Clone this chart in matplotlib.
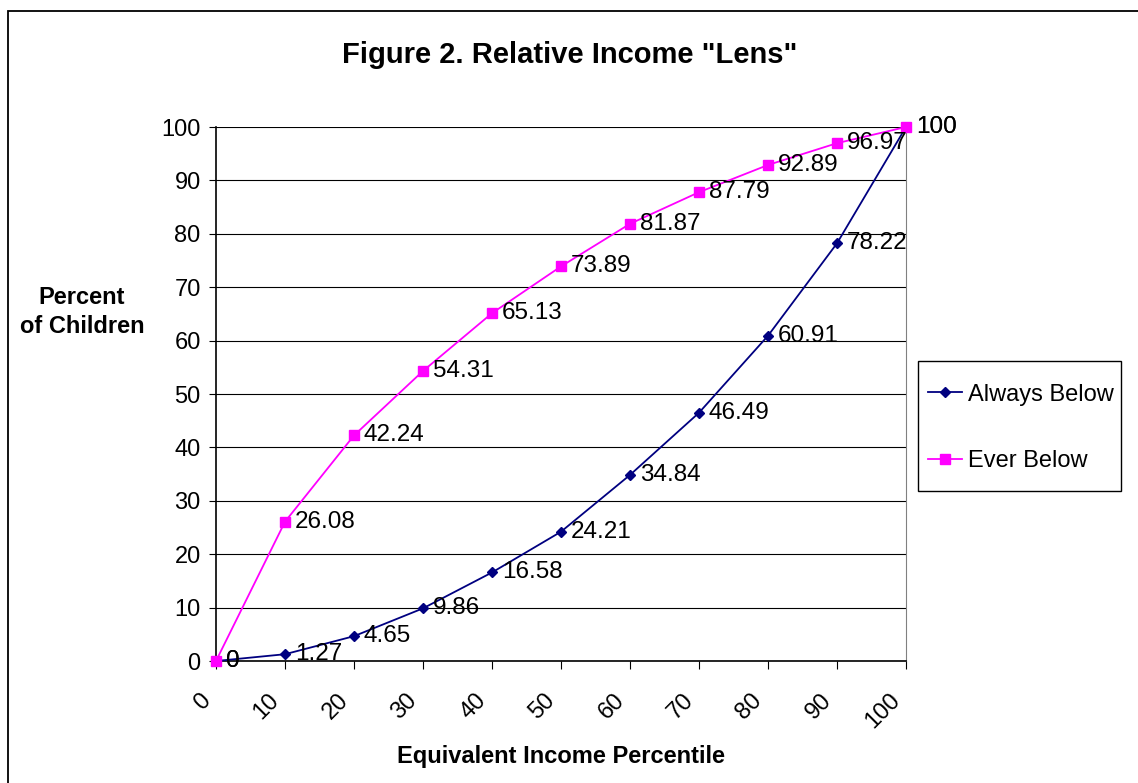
import matplotlib.pyplot as plt
from matplotlib.patches import Rectangle
from matplotlib.transforms import ScaledTranslation

# Percentil de renda e percentuais
percentis = [0, 10, 20, 30, 40, 50, 60, 70, 80, 90, 100]
always_below = [0, 1.27, 4.65, 9.86, 16.58, 24.21, 34.84, 46.49, 60.91, 78.22, 100]
ever_below = [0, 26.08, 42.24, 54.31, 65.13, 73.89, 81.87, 87.79, 92.89, 96.97, 100]
rotulos_x = [str(p) for p in percentis]

plt.rcParams['font.family'] = ['Liberation Sans', 'DejaVu Sans']

fig = plt.figure(figsize=(11.38, 7.83), dpi=100)
ax = fig.add_axes([216 / 1138, 1 - 661 / 783, 690 / 1138, 534 / 783])

# Borda externa do gráfico (só esquerda e topo aparecem)
fig.patches.append(Rectangle((8 / 1138, -0.1), 1.2, 1.1 - 11 / 783,
                             transform=fig.transFigure, fill=False,
                             edgecolor='black', linewidth=1.3))

l1, = ax.plot(percentis, always_below, color='#000080', marker='D',
              markersize=5, linewidth=1.3, label='Always Below', zorder=3,
              clip_on=False)
l2, = ax.plot(percentis, ever_below, color='#FF00FF', marker='s',
              markersize=7, linewidth=1.3, label='Ever Below', zorder=3,
              clip_on=False)

# Rótulos dos dados
for x, y in zip(percentis, always_below):
    ax.annotate(f"{y:g}", (x, y), xytext=(7, 0), textcoords='offset points',
                va='center', ha='left', fontsize=17.5, zorder=4)
for x, y in zip(percentis, ever_below):
    ax.annotate(f"{y:g}", (x, y), xytext=(7, 0), textcoords='offset points',
                va='center', ha='left', fontsize=17.5, zorder=4)

ax.set_xlim(0, 100)
ax.set_ylim(0, 100)
ax.set_xticks(percentis)
ax.set_xticklabels(rotulos_x, rotation=45, ha='right', va='top',
                   rotation_mode='anchor', fontsize=17)
ax.set_yticks(range(0, 101, 10))
ax.tick_params(axis='y', labelsize=17, direction='out', length=5, pad=6)
ax.tick_params(axis='x', direction='out', length=6, pad=10)
ax.yaxis.grid(True, color='black', linewidth=0.8)
ax.set_axisbelow(True)

# desloca os rótulos do eixo x um pouco p/ esquerda e p/ baixo
desloc = ScaledTranslation(-17 / 100, -6 / 100, fig.dpi_scale_trans)
for rot in ax.get_xticklabels():
    rot.set_transform(rot.get_transform() + desloc)

ax.spines['right'].set_color('#808080')
for lado in ['left', 'bottom']:
    ax.spines[lado].set_color('black')
    ax.spines[lado].set_linewidth(1.2)
ax.spines['top'].set_visible(False)

fig.text(570 / 1138, 1 - 55 / 783, 'Figure 2. Relative Income "Lens"',
         ha='center', va='center', fontsize=21, fontweight='bold')
fig.text(82 / 1138, 1 - 312 / 783, 'Percent\nof Children', ha='center',
         va='center', fontsize=17, fontweight='bold', linespacing=1.3)
fig.text(561 / 1138, 1 - 756 / 783, 'Equivalent Income Percentile',
         ha='center', va='center', fontsize=17, fontweight='bold')

# Legenda sem moldura + caixa desenhada à parte
leg = fig.legend(handles=[l1, l2], loc='center', fontsize=17,
                 bbox_to_anchor=(1021 / 1138, 1 - 428 / 783),
                 frameon=False, labelspacing=1.9, handlelength=1.45,
                 borderpad=0, handletextpad=0.25, borderaxespad=0)
fig.patches.append(Rectangle((918 / 1138, 1 - 491 / 783), 203 / 1138,
                             130 / 783, transform=fig.transFigure,
                             fill=False, edgecolor='black', linewidth=1))

fig.savefig('out.png', dpi=100)
